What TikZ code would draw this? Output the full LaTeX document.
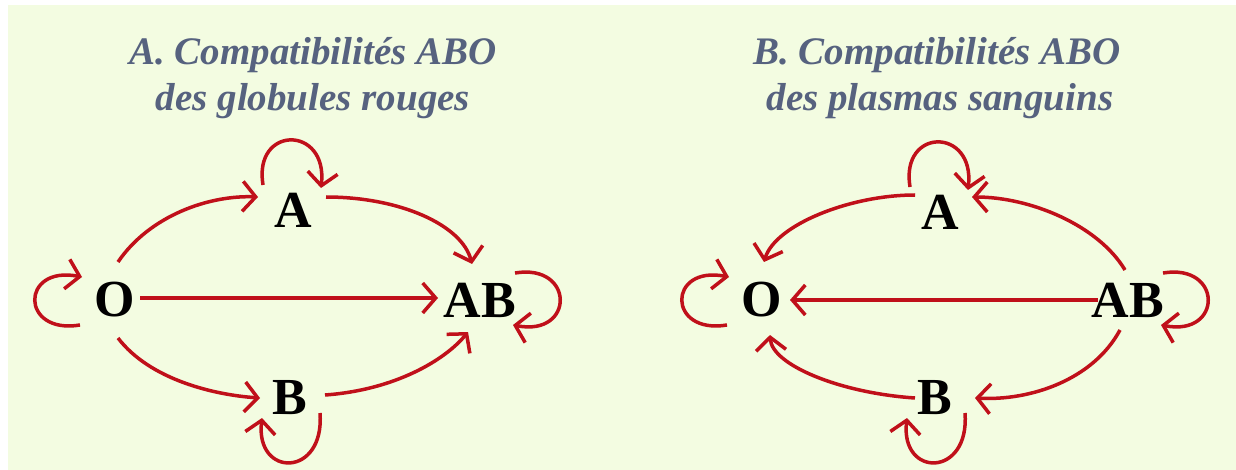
\documentclass[tikz,border=0pt]{standalone}
\usepackage{fontspec}
\setmainfont{Liberation Serif}
\usetikzlibrary{arrows.meta,calc}
\definecolor{bg}{HTML}{F3FCE1}
\definecolor{arrred}{HTML}{C0101A}
\definecolor{titlecol}{HTML}{56627F}
\begin{document}
\begin{tikzpicture}[x=1pt,y=-1pt,
 lbl/.style={font=\fontsize{52}{52}\selectfont\bfseries, inner sep=0pt, text=black},
 ttl/.style={font=\fontsize{39}{46}\selectfont\bfseries\itshape, text=titlecol, anchor=base, inner sep=0pt},
 arr/.style={draw=arrred, line width=3.5pt, -{Straight Barb[length=13pt,width=30pt]}}]
\useasboundingbox (0,0) rectangle (1236,470);
\fill[white] (0,0) rectangle (1236,470);
\fill[bg] (8,5) rectangle (1236,470);
% Panel A
\node[ttl] (tA1) at (313,65) {A. Compatibilités ABO};
\node[ttl] (tA2) at (313,111) {des globules rouges};
\node[lbl] (Aa) at (293,210) {A};
\node[lbl] (Oa) at (115,300) {O};
\node[lbl] (ABa) at (480,300) {AB};
\node[lbl] (Ba) at (290,398) {B};
\draw[arr] ($(Oa)+(3,-38)$) .. controls ($(Oa)+(35,-85)$) and ($(Aa)+(-83,-15)$) .. ($(Aa)+(-35,-13)$);
\draw[arr] ($(Aa)+(33,-13)$) .. controls ($(Aa)+(107,-13)$) and ($(ABa)+(-18,-75)$) .. ($(ABa)+(-8,-36)$);
\draw[arr] ($(Oa)+(25,-2)$) -- ($(ABa)+(-42,-2)$);
\draw[arr] ($(Oa)+(3,38)$) .. controls ($(Oa)+(35,80)$) and ($(Ba)+(-75,-3)$) .. ($(Ba)+(-30,0)$);
\draw[arr] ($(Ba)+(35,-3)$) .. controls ($(Ba)+(105,-8)$) and ($(ABa)+(-35,60)$) .. ($(ABa)+(-12,32)$);
\draw[arr] ($(Aa)+(-30,-25)$) .. controls ($(Aa)+(-40,-85)$) and ($(Aa)+(35,-85)$) .. ($(Aa)+(28,-22)$);
\draw[arr] ($(Oa)+(-35,25)$) .. controls ($(Oa)+(-95,35)$) and ($(Oa)+(-95,-35)$) .. ($(Oa)+(-33,-23)$);
\draw[arr] ($(ABa)+(35,-27)$) .. controls ($(ABa)+(95,-37)$) and ($(ABa)+(95,37)$) .. ($(ABa)+(33,25)$);
\draw[arr] ($(Ba)+(30,15)$) .. controls ($(Ba)+(35,80)$) and ($(Ba)+(-35,80)$) .. ($(Ba)+(-28,20)$);
% Panel B
\node[ttl] (tB1) at (937,65) {B. Compatibilités ABO};
\node[ttl] (tB2) at (940,111) {des plasmas sanguins};
\node[lbl] (Ab) at (940,212) {A};
\node[lbl] (Ob) at (762,300) {O};
\node[lbl] (ABb) at (1128,300) {AB};
\node[lbl] (Bb) at (935,398) {B};
\draw[arr] ($(Ab)+(-25,-17)$) .. controls ($(Ab)+(-90,-17)$) and ($(Ob)+(13,-75)$) .. ($(Ob)+(2,-38)$);
\draw[arr] ($(ABb)+(-3,-30)$) .. controls ($(ABb)+(-30,-75)$) and ($(Ab)+(90,-15)$) .. ($(Ab)+(32,-15)$);
\draw[arr] ($(ABb)+(-30,0)$) -- ($(Ob)+(28,0)$);
\draw[arr] ($(ABb)+(-8,30)$) .. controls ($(ABb)+(-35,80)$) and ($(Bb)+(95,3)$) .. ($(Bb)+(40,0)$);
\draw[arr] ($(Bb)+(-20,0)$) .. controls ($(Bb)+(-95,-5)$) and ($(Ob)+(10,65)$) .. ($(Ob)+(8,35)$);
\draw[arr] ($(Ab)+(-30,-25)$) .. controls ($(Ab)+(-40,-85)$) and ($(Ab)+(35,-85)$) .. ($(Ab)+(28,-22)$);
\draw[arr] ($(Ob)+(-35,25)$) .. controls ($(Ob)+(-95,35)$) and ($(Ob)+(-95,-35)$) .. ($(Ob)+(-33,-23)$);
\draw[arr] ($(ABb)+(35,-27)$) .. controls ($(ABb)+(95,-37)$) and ($(ABb)+(95,37)$) .. ($(ABb)+(33,25)$);
\draw[arr] ($(Bb)+(30,15)$) .. controls ($(Bb)+(35,80)$) and ($(Bb)+(-35,80)$) .. ($(Bb)+(-28,20)$);
\end{tikzpicture}
\end{document}
